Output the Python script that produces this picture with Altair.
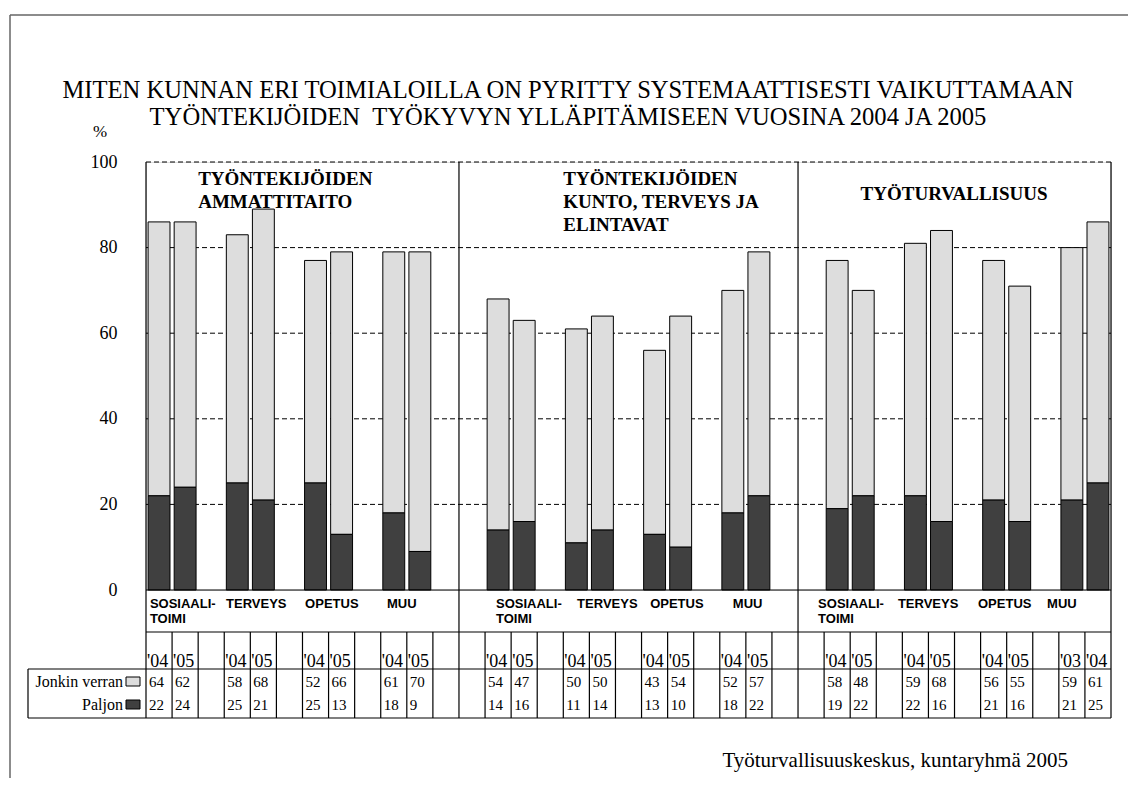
import altair as alt
import pandas as pd

# ---------------- data ----------------
title_lines = [
    "MITEN KUNNAN ERI TOIMIALOILLA ON PYRITTY SYSTEMAATTISESTI VAIKUTTAMAAN",
    "TYÖNTEKIJÖIDEN \u00a0TYÖKYVYN YLLÄPITÄMISEEN VUOSINA 2004 JA 2005",
]
panel_titles = [
    "TYÖNTEKIJÖIDEN\nAMMATTITAITO",
    "TYÖNTEKIJÖIDEN\nKUNTO, TERVEYS JA\nELINTAVAT",
    "TYÖTURVALLISUUS",
]
categories = ["SOSIAALI-\nTOIMI", "TERVEYS", "OPETUS", "MUU"]
years = [
    [["'04", "'05"], ["'04", "'05"], ["'04", "'05"], ["'04", "'05"]],
    [["'04", "'05"], ["'04", "'05"], ["'04", "'05"], ["'04", "'05"]],
    [["'04", "'05"], ["'04", "'05"], ["'04", "'05"], ["'03", "'04"]],
]
jonkin = [
    [[64, 62], [58, 68], [52, 66], [61, 70]],
    [[54, 47], [50, 50], [43, 54], [52, 57]],
    [[58, 48], [59, 68], [56, 55], [59, 61]],
]
paljon = [
    [[22, 24], [25, 21], [25, 13], [18, 9]],
    [[14, 16], [11, 14], [13, 10], [18, 22]],
    [[19, 22], [22, 16], [21, 16], [21, 25]],
]
series_names = ["Jonkin verran", "Paljon"]
y_ticks = [0, 20, 40, 60, 80, 100]
y_unit = "%"
source = "Työturvallisuuskeskus, kuntaryhmä 2005"

# ---------------- layout ----------------
panel_start = [0, 12, 25]
panel_first = [0, 1, 1]
n_cols = 37
panel_title_x = [2.0, 16.0, 27.4]
panel_title_y = [23, 23, 38]
cat_label_dx = [[0.15, 0.07, 0.1, 0.24], [0.42, 0.53, 0.33, 0.5], [-0.23, -0.17, -0.1, -0.45]]
W, H = 965, 428
LIGHT, DARK = "#dddddd", "#404040"
SERIF, SANS = "Liberation Serif", "Liberation Sans"

rows = []
cat_rows = []
for p in range(3):
    for c in range(4):
        col0 = panel_start[p] + panel_first[p] + 3 * c
        cat_rows.append({"label": categories[c], "x": col0 + cat_label_dx[p][c]})
        for k in range(2):
            col = col0 + k
            pv, jv = paljon[p][c][k], jonkin[p][c][k]
            rows.append({
                "x0": col + 0.08, "x1": col + 0.92, "xc": col + 0.5,
                "base": 0, "p": pv, "top": pv + jv, "j": jv, "year": years[p][c][k],
            })
df = pd.DataFrame(rows)
cat_df = pd.DataFrame(cat_rows)
pt_df = pd.DataFrame({"t": panel_titles, "x": panel_title_x, "y": panel_title_y})

xs = alt.Scale(domain=[0, n_cols], nice=False, zero=False)
ys = alt.Scale(domain=[0, 100], nice=False, zero=False)
yaxis = alt.Axis(values=y_ticks, ticks=False, domain=False, grid=False, labelFont=SERIF,
                 labelFontSize=18, labelColor="black", labelPadding=29, labelFlush=False,
                 labelBaseline="middle", title=None)
one = pd.DataFrame({"k": [0]})

grid = alt.Chart(pd.DataFrame({"v": y_ticks[1:]})).mark_rule(
    color="black", strokeDash=[5, 3], strokeWidth=1
).encode(y=alt.Y("v:Q", scale=ys, axis=yaxis), x=alt.value(0), x2=alt.value(W))

dark = alt.Chart(df).mark_rect(fill=DARK, stroke="black", strokeWidth=1).encode(
    x=alt.X("x0:Q", scale=xs, axis=None), x2="x1:Q",
    y=alt.Y("base:Q", scale=ys), y2="p:Q")
light = alt.Chart(df).mark_rect(fill=LIGHT, stroke="black", strokeWidth=1).encode(
    x=alt.X("x0:Q", scale=xs, axis=None), x2="x1:Q",
    y=alt.Y("p:Q", scale=ys), y2="top:Q")

line_kw = dict(color="black", strokeWidth=1.2)
axis0 = alt.Chart(pd.DataFrame({"v": [0]})).mark_rule(**line_kw).encode(
    y=alt.Y("v:Q", scale=ys), x=alt.value(0), x2=alt.value(W))
panel_v = alt.Chart(pd.DataFrame({"b": [0, 12, 25, n_cols]})).mark_rule(**line_kw).encode(
    x=alt.X("b:Q", scale=xs), y=alt.value(0), y2=alt.value(470))
col_v = alt.Chart(pd.DataFrame({"b": list(range(n_cols + 1))})).mark_rule(**line_kw).encode(
    x=alt.X("b:Q", scale=xs), y=alt.value(470), y2=alt.value(556))
cat_bottom = alt.Chart(one).mark_rule(**line_kw).encode(
    x=alt.value(0), x2=alt.value(W), y=alt.value(470))
tab_h = alt.Chart(pd.DataFrame({"yy": [507, 556]})).mark_rule(**line_kw).encode(
    x=alt.value(-118), x2=alt.value(W), y=alt.Y("yy:Q", scale=None))
tab_left = alt.Chart(one).mark_rule(**line_kw).encode(
    x=alt.value(-118), y=alt.value(507), y2=alt.value(556))
frame_l = alt.Chart(one).mark_rule(color="#666666", strokeWidth=1.5).encode(
    x=alt.value(-136), y=alt.value(-147), y2=alt.value(640))
frame_t = alt.Chart(one).mark_rule(color="#666666", strokeWidth=1.5).encode(
    x=alt.value(-136), x2=alt.value(1000), y=alt.value(-147))

title = alt.Chart(pd.DataFrame({"t": ["\n".join(title_lines)]})).mark_text(
    font=SERIF, fontSize=24.6, lineBreak="\n", lineHeight=27, align="center",
    baseline="alphabetic", color="black"
).encode(text="t:N", x=alt.value(422), y=alt.value(-64))
pct = alt.Chart(pd.DataFrame({"t": [y_unit]})).mark_text(
    font=SERIF, fontSize=17, align="center", baseline="alphabetic", color="black"
).encode(text="t:N", x=alt.value(-46), y=alt.value(-25))

ptitles = alt.Chart(pt_df).mark_text(
    font=SERIF, fontSize=19, fontWeight="bold", lineBreak="\n", lineHeight=23,
    align="left", baseline="alphabetic", color="black"
).encode(text="t:N", x=alt.X("x:Q", scale=xs), y=alt.Y("y:Q", scale=None))

cats = alt.Chart(cat_df).mark_text(
    font=SANS, fontSize=13, fontWeight="bold", lineBreak="\n", lineHeight=15,
    align="left", baseline="alphabetic", color="black"
).encode(text="label:N", x=alt.X("x:Q", scale=xs), y=alt.value(446))

yr = alt.Chart(df).mark_text(
    font=SERIF, fontSize=18, align="left", baseline="alphabetic", dx=-12, color="black"
).encode(text="year:N", x=alt.X("xc:Q", scale=xs), y=alt.value(505))
v1 = alt.Chart(df).mark_text(
    font=SERIF, fontSize=15, align="left", baseline="alphabetic", dx=-10, color="black"
).encode(text="j:Q", x=alt.X("xc:Q", scale=xs), y=alt.value(525))
v2 = alt.Chart(df).mark_text(
    font=SERIF, fontSize=15, align="left", baseline="alphabetic", dx=-10, color="black"
).encode(text="p:Q", x=alt.X("xc:Q", scale=xs), y=alt.value(548))

leg_df = pd.DataFrame({"name": series_names, "yy": [525, 548], "b0": [515, 538], "b1": [524, 547]})
leg_txt = alt.Chart(leg_df).mark_text(
    font=SERIF, fontSize=16, align="right", baseline="alphabetic", color="black"
).encode(text="name:N", x=alt.value(-23), y=alt.Y("yy:Q", scale=None))
leg_box = alt.Chart(leg_df).mark_rect(stroke="black", strokeWidth=1).encode(
    x=alt.value(-20), x2=alt.value(-6), y=alt.Y("b0:Q", scale=None), y2="b1:Q",
    fill=alt.Fill("name:N", scale=alt.Scale(domain=series_names, range=[LIGHT, DARK]), legend=None))

src = alt.Chart(pd.DataFrame({"t": [source]})).mark_text(
    font=SERIF, fontSize=21, align="right", baseline="alphabetic", color="black"
).encode(text="t:N", x=alt.value(922), y=alt.value(605))

chart = alt.layer(
    grid, light, dark, axis0, panel_v, col_v, cat_bottom, tab_h, tab_left,
    frame_l, frame_t, title, pct, ptitles, cats, yr, v1, v2, leg_txt, leg_box, src
).properties(
    width=W, height=H,
    autosize=alt.AutoSizeParams(type="none"),
    padding={"left": 138, "top": 154, "right": 17, "bottom": 188},
).configure_view(stroke=None).configure_axis(
    labelFont=SERIF, labelFontSize=18, labelColor="black"
).configure(background="white")

chart.save("out.html", embed_options={"renderer": "svg", "actions": False})
